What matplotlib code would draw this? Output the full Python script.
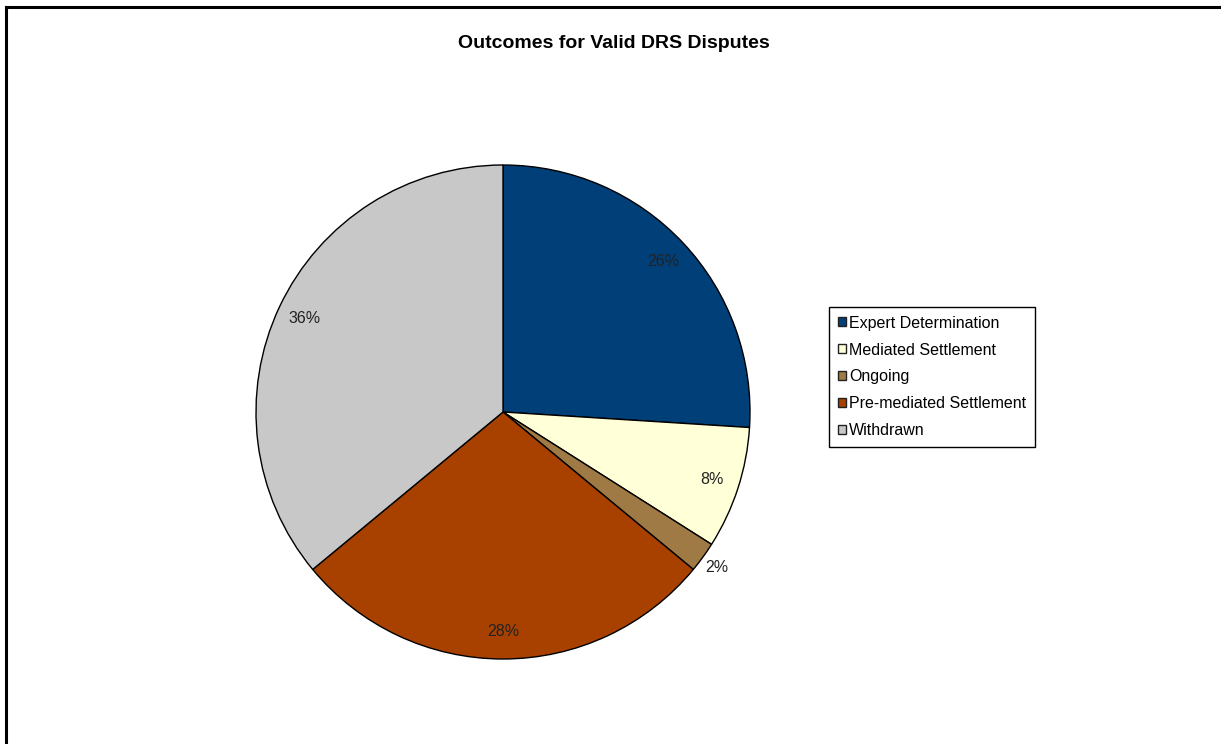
import matplotlib.pyplot as plt
from matplotlib.lines import Line2D
from matplotlib.patches import Patch
import numpy as np

plt.rcParams["font.family"] = ["Liberation Sans", "DejaVu Sans"]

categories = [
    "Expert Determination",
    "Mediated Settlement",
    "Ongoing",
    "Pre-mediated Settlement",
    "Withdrawn",
]
shares = [26, 8, 2, 28, 36]
colors = ["#003f78", "#ffffd8", "#a07a45", "#a84100", "#c8c8c8"]

W, H = 1221, 744
fig = plt.figure(figsize=(W / 100, H / 100), dpi=100)

# pie centred at (503, 412) px, radius 247 px
cx, cy, r = 503, 412, 247
ax = fig.add_axes([
    (cx - r) / W,
    (H - cy - r) / H,
    2 * r / W,
    2 * r / H
])

wedges, texts, autotexts = ax.pie(
    shares,
    colors=colors,
    startangle=90,
    counterclock=False,
    autopct="%d%%",
    pctdistance=0.89,
    wedgeprops={"edgecolor": "black", "linewidth": 1},
    textprops={"fontsize": 11.5, "color": "#222222"},
)

# small slice label goes outside
for w, t, s in zip(wedges, autotexts, shares):
    if s < 5:
        ang = np.deg2rad((w.theta1 + w.theta2) / 2)
        t.set_position((1.07 * np.cos(ang), 1.07 * np.sin(ang)))

ax.set_xlim(-1, 1)
ax.set_ylim(-1, 1)
ax.set_aspect("equal")
ax.axis("off")

fig.text(
    614 / W, 1 - 44 / H,
    "Outcomes for Valid DRS Disputes",
    ha="center", va="center",
    fontsize=14, fontweight="bold"
)

handles = [
    Patch(facecolor=c, edgecolor="#222222", linewidth=1)
    for c in colors
]
leg = fig.legend(
    handles,
    categories,
    loc="center left",
    bbox_to_anchor=(829 / W, 1 - 377 / H),
    fontsize=11.5,
    handlelength=0.5,
    handleheight=0.5,
    handletextpad=0.2,
    labelspacing=0.75,
    borderpad=0.55,
    borderaxespad=0,
    frameon=True,
    fancybox=False,
    framealpha=1,
)
leg.get_frame().set_edgecolor("black")
leg.get_frame().set_linewidth(1)

# outer border: top and left lines only
fig.add_artist(Line2D([6 / W, 1], [1 - 7 / H, 1 - 7 / H], color="black", linewidth=2.2))
fig.add_artist(Line2D([6 / W, 6 / W], [0, 1 - 7 / H], color="black", linewidth=2.2))

fig.savefig("out.png", dpi=100)
